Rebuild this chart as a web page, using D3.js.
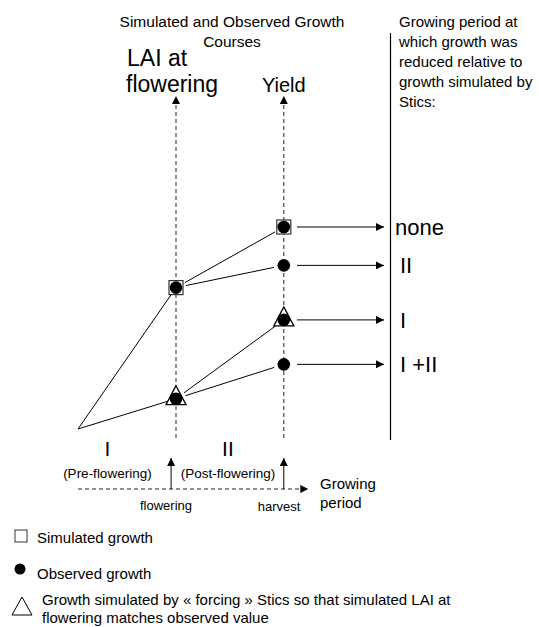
<!DOCTYPE html>
<html>
<head>
<meta charset="utf-8">
<script src="https://cdn.jsdelivr.net/npm/d3@7"></script>
<style>
  body { margin: 0; background: #fff; }
  svg { font-family: "Liberation Sans", Arial, sans-serif; fill: #000; }
</style>
</head>
<body>
<svg></svg>
<script>
const width = 539;
const height = 627;

const svg = d3.select("svg").attr("width", width).attr("height", height);

// datos
const stages = ["sowing", "flowering", "harvest"];
const stageTime = [0, 1, 2.1];
const floweringLevels = [7, 1.5]; // simulated, forced
const scenarios = ["none", "II", "I", "I +II"];
const yieldValues = [10, 8.1, 5.4, 3.2];
const yieldFrom = [0, 0, 1, 1]; // index in floweringLevels
const yieldMarker = ["square", "dot", "triangle", "dot"];
const floweringMarker = ["square", "triangle"];
const periodLabels = ["I", "II"];
const periodNames = ["(Pre-flowering)", "(Post-flowering)"];
const periodCenter = [0.3, 1.53];

const x = d3.scaleLinear().domain([0, 1]).range([78, 176]);
const y = d3.scaleLinear().domain([0, 10]).range([429, 227]);

// flechas
const defs = svg.append("defs");
defs.append("marker")
  .attr("id", "head")
  .attr("viewBox", "0 0 10 10")
  .attr("refX", 10).attr("refY", 5)
  .attr("markerWidth", 10).attr("markerHeight", 8)
  .attr("markerUnits", "userSpaceOnUse")
  .attr("orient", "auto")
  .append("path").attr("d", "M0,0L10,5L0,10Z").attr("fill", "#000");

// titulo
svg.append("text").attr("x", 232).attr("y", 27).attr("text-anchor", "middle")
  .attr("font-size", 15.5).text("Simulated and Observed Growth");
svg.append("text").attr("x", 232).attr("y", 47).attr("text-anchor", "middle")
  .attr("font-size", 15.5).text("Courses");

svg.append("text").attr("x", 127).attr("y", 66).attr("font-size", 23).text("LAI at");
svg.append("text").attr("x", 126).attr("y", 92).attr("font-size", 23).text("flowering");
svg.append("text").attr("x", x(stageTime[2])).attr("y", 92)
  .attr("text-anchor", "middle").attr("font-size", 20).text("Yield");

// texto derecha
const rightText = ["Growing period at", "which growth was", "reduced relative to",
  "growth simulated by", "Stics:"];
svg.selectAll(".rt").data(rightText).join("text")
  .attr("x", 399).attr("y", (d, i) => 27 + i * 20)
  .attr("font-size", 15).text(d => d);

svg.append("line").attr("x1", 390.5).attr("x2", 390.5).attr("y1", 33).attr("y2", 440)
  .attr("stroke", "#000").attr("stroke-width", 1.2);

// ejes verticales discontinuos
[1, 2].forEach(i => {
  svg.append("line")
    .attr("x1", x(stageTime[i])).attr("x2", x(stageTime[i]))
    .attr("y1", 438).attr("y2", 96)
    .attr("stroke", "#222").attr("stroke-dasharray", "4,3")
    .attr("marker-end", "url(#head)");
});

// segmentos
function seg(x1, y1, x2, y2, s1, s2) {
  const dx = x2 - x1, dy = y2 - y1, L = Math.hypot(dx, dy);
  svg.append("line")
    .attr("x1", x1 + dx / L * s1).attr("y1", y1 + dy / L * s1)
    .attr("x2", x2 - dx / L * s2).attr("y2", y2 - dy / L * s2)
    .attr("stroke", "#000").attr("stroke-width", 1);
}
floweringLevels.forEach(v => seg(x(0), y(0), x(stageTime[1]), y(v), 0, 8));
yieldValues.forEach((v, i) => {
  const f = floweringLevels[yieldFrom[i]];
  seg(x(stageTime[1]), y(f), x(stageTime[2]), y(v), 10, 10);
});

// marcadores
function marker(type, cx, cy) {
  if (type === "square") {
    svg.append("rect").attr("x", cx - 7).attr("y", cy - 7).attr("width", 14).attr("height", 14)
      .attr("fill", "#fff").attr("stroke", "#333").attr("stroke-width", 1.2);
  }
  if (type === "triangle") {
    svg.append("path").attr("d", `M${cx},${cy - 13}L${cx + 10},${cy + 6}L${cx - 10},${cy + 6}Z`)
      .attr("fill", "#fff").attr("stroke", "#000").attr("stroke-width", 1.3);
  }
  svg.append("circle").attr("cx", cx).attr("cy", cy).attr("r", 6.3).attr("fill", "#000");
}
floweringLevels.forEach((v, i) => marker(floweringMarker[i], x(stageTime[1]), y(v)));
yieldValues.forEach((v, i) => marker(yieldMarker[i], x(stageTime[2]), y(v)));

// flechas horizontales y etiquetas
yieldValues.forEach((v, i) => {
  svg.append("line").attr("x1", 297).attr("x2", 384).attr("y1", y(v)).attr("y2", y(v))
    .attr("stroke", "#000").attr("stroke-width", 1).attr("marker-end", "url(#head)");
  svg.append("text").attr("x", i === 0 ? 395 : 400).attr("y", y(v) + 8)
    .attr("font-size", 22).text(scenarios[i]);
});

// periodos
periodLabels.forEach((d, i) => {
  const px = x(periodCenter[i]);
  svg.append("text").attr("x", px).attr("y", 456).attr("text-anchor", "middle")
    .attr("font-size", 21).text(d);
  svg.append("text").attr("x", px).attr("y", 478).attr("text-anchor", "middle")
    .attr("font-size", 13.5).text(periodNames[i]);
});

// eje periodo
svg.append("line").attr("x1", x(0)).attr("x2", x(2.35)).attr("y1", 489).attr("y2", 489)
  .attr("stroke", "#222").attr("stroke-dasharray", "4,3").attr("marker-end", "url(#head)");
const tickX = [x(0.95), x(stageTime[2])];
tickX.forEach(t => {
  svg.append("line").attr("x1", t).attr("x2", t).attr("y1", 489).attr("y2", 458)
    .attr("stroke", "#000").attr("stroke-width", 1).attr("marker-end", "url(#head)");
});
svg.append("text").attr("x", 166).attr("y", 510).attr("text-anchor", "middle")
  .attr("font-size", 13).text("flowering");
svg.append("text").attr("x", 279).attr("y", 511).attr("text-anchor", "middle")
  .attr("font-size", 13).text("harvest");
svg.append("text").attr("x", 320).attr("y", 489).attr("font-size", 15).text("Growing");
svg.append("text").attr("x", 320).attr("y", 508).attr("font-size", 15).text("period");

// leyenda
svg.append("rect").attr("x", 15).attr("y", 530).attr("width", 12).attr("height", 12)
  .attr("fill", "#fff").attr("stroke", "#333").attr("stroke-width", 1);
svg.append("text").attr("x", 37).attr("y", 543).attr("font-size", 15).text("Simulated growth");
svg.append("circle").attr("cx", 20).attr("cy", 569).attr("r", 5.5).attr("fill", "#000");
svg.append("text").attr("x", 37).attr("y", 579).attr("font-size", 15).text("Observed growth");
svg.append("path").attr("d", "M22,597L32,615L12,615Z").attr("fill", "#fff")
  .attr("stroke", "#000").attr("stroke-width", 1);
svg.append("text").attr("x", 42).attr("y", 605).attr("font-size", 15)
  .text("Growth simulated by « forcing » Stics so that simulated LAI at");
svg.append("text").attr("x", 42).attr("y", 623).attr("font-size", 15)
  .text("flowering matches observed value");
</script>
</body>
</html>
